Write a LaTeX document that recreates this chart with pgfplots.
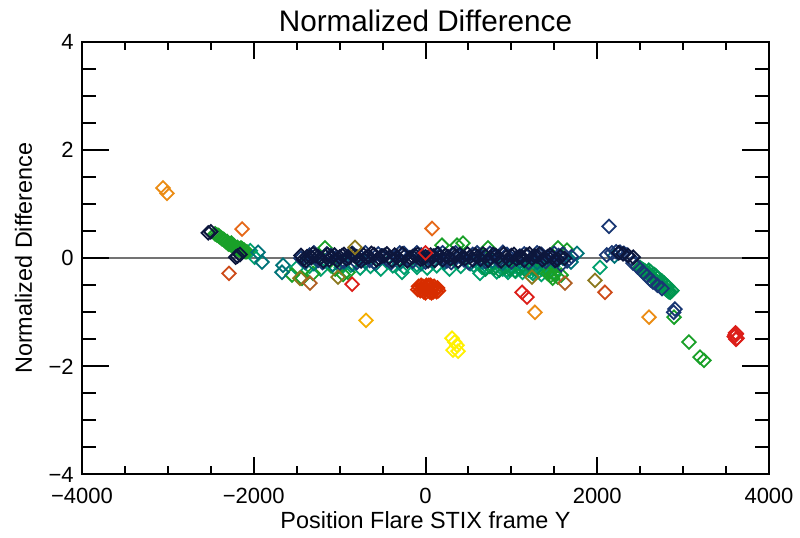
\documentclass[border=0pt]{standalone}
\usepackage{pgfplots}
\pgfplotsset{compat=1.18}
\usepackage{fontspec}
\setmainfont{Liberation Sans}
\definecolor{navy}{RGB}{12,22,60}
\definecolor{dblue}{RGB}{25,55,115}
\definecolor{teal}{RGB}{0,115,120}
\definecolor{tealg}{RGB}{0,160,110}
\definecolor{grn}{RGB}{25,160,40}
\definecolor{mgrn}{RGB}{0,150,80}
\definecolor{olive}{RGB}{140,120,30}
\definecolor{brwn}{RGB}{175,95,35}
\definecolor{orng}{RGB}{235,140,20}
\definecolor{dorng}{RGB}{230,105,25}
\definecolor{rorng}{RGB}{205,75,25}
\definecolor{rred}{RGB}{220,30,25}
\definecolor{redc}{RGB}{215,45,0}
\definecolor{yorng}{RGB}{245,175,0}
\definecolor{yell}{RGB}{255,240,0}
\pgfplotsset{dia/.style={only marks, mark=square, mark size=2.4pt,
  mark options={rotate=45, solid, line width=0.9pt, draw=#1, fill=none}},
  common/.style={scale only axis, width=343.5pt, height=216.25pt,
  xmin=-4000, xmax=4000, ymin=-4, ymax=4,
  axis line style={line width=1pt},
  tick align=inside, tick pos=both,
  every tick/.style={line width=1pt, black},
  ticklabel style={font=\fontsize{11pt}{13pt}\selectfont, inner sep=0pt}}}
\begin{document}
\begin{tikzpicture}
\begin{axis}[common,
  xtick={-4000,-2000,0,2000,4000},
  xticklabels={−4000,−2000,0,2000,4000},
  ytick=\empty,
  minor x tick num=3,
  major tick length=8.5pt, minor tick length=4.25pt,
  xticklabel style={yshift=-6.75pt},
  title={Normalized Difference},
  title style={font=\fontsize{14.85pt}{17pt}\selectfont, at={(axis description cs:0.5,1.024)}, anchor=base, yshift=-6pt, inner sep=0pt},
  xlabel={Position Flare STIX frame Y},
  xlabel style={font=\fontsize{11.7pt}{14pt}\selectfont, at={(axis description cs:0.5,-0.1237)}, anchor=base, inner sep=0pt},
]
\addplot[color={rgb,255:red,115;green,115;blue,115}, line width=0.75pt] coordinates {(-4000,0) (4000,0)};
% teal-green
\addplot[dia=tealg] coordinates {(-1500,-0.18)(-1350,-0.15)(-1220,-0.2)(-1100,-0.14)(-980,-0.17)(-870,-0.13)(-760,-0.18)(-640,-0.15)(-520,-0.2)(-380,-0.14)(-274,-0.26)(-250,-0.17)(-99,-0.17)(-100,-0.12)(20,-0.18)(130,-0.14)(280,-0.2)(410,-0.15)(560,-0.13)(635,-0.28)(658,-0.17)(700,-0.19)(820,-0.15)(900,-0.2)(950,-0.22)(1000,-0.18)(1050,-0.24)(1100,-0.2)(1150,-0.16)(1200,-0.22)(1250,-0.19)(1300,-0.15)(1350,-0.2)(1400,-0.17)(1450,-0.22)(1500,-0.26)(2032,-0.17)(1250,-0.28)(1350,-0.3)(-2040,0.14)(-1990,0.02)
(830,-0.25)(880,-0.18)(960,-0.26)(1010,-0.14)(1070,-0.17)(1130,-0.26)(1190,-0.12)(1230,-0.25)(1320,-0.24)(1380,-0.13)(1430,-0.27)(1480,-0.15)};
% medium green
\addplot[dia=mgrn] coordinates {(2498,-0.17)(2540,-0.22)(2580,-0.27)(2610,-0.3)(2640,-0.35)(2670,-0.4)(2700,-0.44)(2730,-0.48)(2760,-0.52)(2790,-0.56)(2820,-0.6)(2850,-0.63)(2870,-0.6)(2600,-0.22)(2680,-0.32)(2750,-0.42)(2800,-0.5)
(2520,-0.2)(2560,-0.24)(2595,-0.28)(2625,-0.33)(2655,-0.37)(2685,-0.42)(2715,-0.46)(2745,-0.5)(2775,-0.54)(2805,-0.58)(2835,-0.62)(2620,-0.25)(2660,-0.3)(2700,-0.36)(2740,-0.41)(2780,-0.46)(2820,-0.52)
(800,-0.18)(860,-0.22)(920,-0.17)(980,-0.2)(1040,-0.23)(1100,-0.18)(1160,-0.21)(1220,-0.16)(1280,-0.2)(700,-0.2)(750,-0.15)};
% green
\addplot[dia=grn] coordinates {(-2450,0.45)(-2400,0.4)(-2350,0.35)(-2320,0.3)(-2300,0.27)(-2270,0.25)(-2240,0.22)(-2220,0.2)(-2200,0.18)(-2180,0.16)(-2160,0.15)(-2140,0.18)(-2120,0.14)(-2380,0.38)(-2260,0.28)(-2100,0.12)
(-2430,0.43)(-2410,0.42)(-2370,0.36)(-2340,0.33)(-2310,0.31)(-2290,0.26)(-2250,0.24)(-2230,0.23)(-2210,0.19)(-2190,0.2)(-2170,0.17)(-2150,0.19)(-2130,0.16)(-2110,0.15)(-2080,0.12)
(-1170,0.19)(192,0.24)(367,0.24)(437,0.28)(728,0.19)(1543,0.19)(1648,0.15)(-1554,-0.31)(-1438,-0.37)(-903,-0.26)(-1310,-0.28)(-960,-0.3)(-1050,-0.2)
(1420,-0.28)(1460,-0.32)(1500,-0.3)(1540,-0.35)(1580,-0.31)(1480,-0.37)(1450,-0.25)
(2894,-1.09)(3068,-1.55)(3197,-1.83)(3243,-1.89)};
% teal
\addplot[dia=teal] coordinates {(-1950,0.11)(-1904,-0.07)(-1671,-0.26)(-1659,-0.13)(-1400,-0.08)(-1300,-0.1)(-1180,-0.06)(-1080,-0.12)(-950,-0.08)(-850,-0.11)(-700,-0.07)(-580,-0.1)(-420,-0.05)(-300,-0.09)(-150,-0.06)(-50,-0.1)(80,-0.05)(220,-0.08)(380,-0.06)(520,-0.1)(660,-0.07)(780,-0.05)(900,-0.09)(1100,-0.06)(1300,-0.08)(1500,-0.05)(1764,0.09)(1694,-0.07)(1600,0.0)(2200,0.04)};
% dark blue
\addplot[dia=dblue] coordinates {(-1450,0.0)(-1350,0.06)(-1250,-0.04)(-1150,0.08)(-1050,0.0)(-950,-0.05)(-850,0.09)(-750,0.02)(-650,-0.04)(-550,0.08)(-450,-0.02)(-350,0.03)(-250,0.09)(-150,-0.05)(-50,0.06)(50,0.0)(150,0.08)(250,-0.05)(350,0.1)(450,-0.03)(550,0.07)(650,0.0)(750,0.09)(850,-0.04)(950,0.07)(1050,0.0)(1150,0.08)(1250,0.02)(1350,0.07)(1450,0.04)(1550,0.05)(1650,-0.05)(1580,-0.12)
(-1400,-0.06)(-1300,0.1)(-1200,-0.08)(-1100,0.05)(-1000,-0.09)(-900,0.04)(-800,-0.08)(-700,0.1)(-600,-0.07)(-500,0.04)(-400,-0.08)(-300,0.1)(-200,-0.02)(-100,0.1)(0,-0.07)(100,0.04)(200,0.1)(300,-0.08)(400,0.04)(500,-0.08)(600,0.1)(700,-0.06)(800,0.05)(900,0.11)(1000,-0.07)(1100,0.04)(1200,-0.08)(1300,0.1)(1400,-0.06)(1500,0.09)(1600,0.08)(1700,0.03)
(2110,0.06)(2170,0.1)(2220,0.12)(2265,0.11)(2310,0.09)(2347,0.06)(2390,0.0)(2417,-0.09)(2470,-0.16)(2533,-0.26)(2580,-0.33)(2620,-0.4)(2650,-0.44)(2700,-0.5)(2754,-0.56)
(2137,0.59)(2905,-0.94)(2890,-1.0)};
% navy
\addplot[dia=navy] coordinates {(-2530,0.47)(-2500,0.49)(-2190,0.04)(-2160,0.07)(-2210,0.02)
(-1420,-0.02)(-1380,0.03)(-1330,0.01)(-1280,0.05)(-1230,0.0)(-1170,0.04)(-1120,-0.03)(-1060,0.06)(-1000,0.02)(-950,0.07)(-890,0.01)(-830,0.05)(-780,-0.02)(-720,0.06)(-660,0.03)(-600,0.07)(-540,0.0)(-480,0.05)(-420,0.02)(-360,0.06)(-300,-0.03)(-240,0.04)(-180,0.01)(-120,0.05)(-60,-0.02)(0,0.03)(60,0.06)(110,-0.04)(170,0.02)(230,0.05)(290,-0.01)(350,0.04)(400,0.07)(460,0.0)(520,0.03)(580,0.06)(640,-0.02)(700,0.04)(760,0.01)(820,0.05)(880,-0.05)(940,0.02)(1000,0.05)(1060,-0.01)(1120,0.03)(1180,0.06)(1240,0.0)(1300,0.04)(1360,-0.03)(1420,0.03)(1480,0.02)(1540,-0.02)(2250,0.1)(2300,0.08)(2360,0.05)(2420,0.02)
(-1450,0.05)(-1390,-0.04)(-1310,0.08)(-1250,0.03)(-1190,-0.05)(-1140,0.07)(-1090,0.02)(-1030,-0.04)(-970,0.05)(-920,-0.01)(-860,0.08)(-800,0.03)(-750,-0.05)(-690,0.02)(-630,0.09)(-570,-0.03)(-510,0.04)(-450,0.08)(-390,-0.04)(-330,0.02)(-270,0.08)(-210,-0.05)(-150,0.03)(-90,0.07)(-30,0.0)(30,-0.05)(90,0.04)(140,0.08)(200,-0.03)(260,0.03)(320,0.08)(380,-0.05)(430,0.02)(490,0.08)(550,-0.03)(610,0.03)(670,0.08)(730,-0.04)(790,0.07)(850,0.02)(910,0.08)(970,-0.03)(1030,0.07)(1090,0.02)(1150,-0.04)(1210,0.08)(1270,0.04)(1330,0.08)(1390,0.0)(1450,0.06)(1510,-0.04)(1570,0.03)(1620,0.0)};
% olive and brown
\addplot[dia=olive] coordinates {(-821,0.2)(-1019,-0.35)(1240,-0.35)(-1461,-0.37)(1974,-0.41)};
\addplot[dia=brwn] coordinates {(-1345,-0.46)(1624,-0.46)};
% oranges
\addplot[dia=orng] coordinates {(-3057,1.3)(-3010,1.2)(2603,-1.09)(1275,-1.0)};
\addplot[dia=dorng] coordinates {(76,0.55)(-2136,0.54)};
\addplot[dia=rorng] coordinates {(-2288,-0.28)(2090,-0.63)};
% reds
\addplot[dia=redc] coordinates {(-80,-0.52)(-40,-0.58)(0,-0.55)(30,-0.6)(60,-0.56)(90,-0.62)(120,-0.58)(140,-0.55)(-60,-0.6)(10,-0.5)(70,-0.64)(100,-0.52)(-20,-0.62)(40,-0.5)
(-90,-0.58)(-50,-0.5)(-10,-0.58)(20,-0.53)(50,-0.62)(80,-0.55)(110,-0.6)(130,-0.62)(150,-0.6)(-30,-0.52)(60,-0.5)(0,-0.64)};
\addplot[dia=rred] coordinates {(-855,-0.48)(1124,-0.63)(1182,-0.72)(3604,-1.42)(3627,-1.48)(3610,-1.38)(0,0.1)(3595,-1.45)(3620,-1.4)(3615,-1.5)};
% yellows
\addplot[dia=yorng] coordinates {(-693,-1.15)};
\addplot[dia=yell] coordinates {(309,-1.48)(367,-1.61)(320,-1.70)(379,-1.72)(340,-1.55)};
\end{axis}
\begin{axis}[common,
  xtick=\empty,
  ytick={-4,-2,0,2,4},
  yticklabels={−4,−2,0,2,4},
  minor y tick num=3,
  major tick length=13.5pt, minor tick length=7pt,
  yticklabel style={xshift=-4pt},
  ylabel={Normalized Difference},
  ylabel style={font=\fontsize{11.7pt}{14pt}\selectfont, at={(axis description cs:-0.0728,0.5)}, anchor=base, inner sep=0pt},
]
\end{axis}
\path (current axis.south west) ++(-41pt,-31.75pt) rectangle ([shift={(15.5pt,21pt)}]current axis.north east);
\end{tikzpicture}
\end{document}
